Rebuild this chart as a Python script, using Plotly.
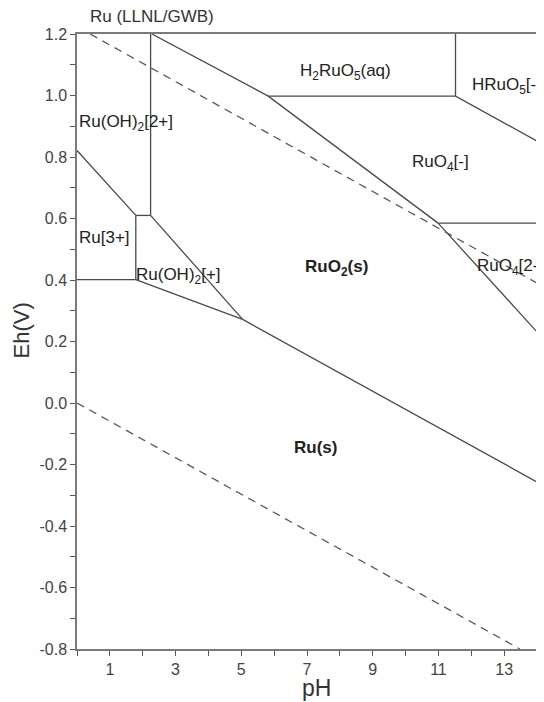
import plotly.graph_objects as go

# ---- data (pH, Eh in V) ----
# solid stability-field boundaries
b_ru3_ruoh2_ph = [0.0, 1.79]
b_ru3_ruoh2_eh = [0.821, 0.610]
b_step_ph = [1.79, 2.24]
b_step_eh = [0.610, 0.610]
b_vert_a_ph = [2.24, 2.24]
b_vert_a_eh = [0.610, 1.200]
b_vert_b_ph = [1.79, 1.79]
b_vert_b_eh = [0.610, 0.401]
b_h040_ph = [0.0, 1.79]
b_h040_eh = [0.401, 0.401]
b_ruoh2p_upper_ph = [2.24, 5.04]
b_ruoh2p_upper_eh = [0.610, 0.272]
b_ruoh2p_lower_ph = [1.79, 5.04]
b_ruoh2p_lower_eh = [0.401, 0.272]
b_ru_ruo2_ph = [5.04, 14.0]
b_ru_ruo2_eh = [0.272, -0.257]
b_ruo2_top_ph = [2.28, 5.82, 10.99]
b_ruo2_top_eh = [1.200, 0.998, 0.585]
b_h2ruo5_ph = [5.82, 11.52]
b_h2ruo5_eh = [0.998, 0.998]
b_hruo5_ph = [11.52, 11.52, 14.0]
b_hruo5_eh = [1.200, 0.998, 0.852]
b_ruo4_ph = [10.99, 14.0]
b_ruo4_eh = [0.585, 0.585]
b_ruo42_ph = [10.99, 14.0]
b_ruo42_eh = [0.585, 0.231]

solid_ph = [b_ru3_ruoh2_ph, b_step_ph, b_vert_a_ph, b_vert_b_ph, b_h040_ph,
            b_ruoh2p_upper_ph, b_ruoh2p_lower_ph, b_ru_ruo2_ph, b_ruo2_top_ph,
            b_h2ruo5_ph, b_hruo5_ph, b_ruo4_ph, b_ruo42_ph]
solid_eh = [b_ru3_ruoh2_eh, b_step_eh, b_vert_a_eh, b_vert_b_eh, b_h040_eh,
            b_ruoh2p_upper_eh, b_ruoh2p_lower_eh, b_ru_ruo2_eh, b_ruo2_top_eh,
            b_h2ruo5_eh, b_hruo5_eh, b_ruo4_eh, b_ruo42_eh]

# water stability (dashed)
water_upper_ph = [0.40, 14.0]
water_upper_eh = [1.200, 0.390]
water_lower_ph = [0.0, 13.48]
water_lower_eh = [0.0, -0.800]

# field labels
label_text = ["H<sub>2</sub>RuO<sub>5</sub>(aq)", "HRuO<sub>5</sub>[-]", "Ru(OH)<sub>2</sub>[2+]",
              "RuO<sub>4</sub>[-]", "Ru[3+]", "Ru(OH)<sub>2</sub>[+]", "<b>RuO<sub>2</sub>(s)</b>",
              "RuO<sub>4</sub>[2-]", "<b>Ru(s)</b>"]
label_ph = [8.16, 11.96, 0.0, 11.05, 0.85, 1.73, 7.91, 12.12, 7.27]
label_eh = [1.075, 1.030, 0.909, 0.779, 0.539, 0.412, 0.438, 0.441, -0.144]
label_anchor = ["center", "left", "left", "center", "center", "left", "center", "left", "center"]

x_tick_vals = [1, 3, 5, 7, 9, 11, 13]
y_tick_vals = [1.2, 1.0, 0.8, 0.6, 0.4, 0.2, 0.0, -0.2, -0.4, -0.6, -0.8]
y_tick_text = ["1.2", "1.0", "0.8", "0.6", "0.4", "0.2", "0.0", "-0.2", "-0.4", "-0.6", "-0.8"]

FONT = "Liberation Sans, Arial, sans-serif"

fig = go.Figure()
for xs, ys in zip(solid_ph, solid_eh):
    fig.add_trace(go.Scatter(x=xs, y=ys, mode="lines",
                             line=dict(color="#4a4a4a", width=1.3),
                             hoverinfo="skip", showlegend=False))
for xs, ys in [(water_upper_ph, water_upper_eh), (water_lower_ph, water_lower_eh)]:
    fig.add_trace(go.Scatter(x=xs, y=ys, mode="lines",
                             line=dict(color="#5a5a5a", width=1.3, dash="8px,6px"),
                             hoverinfo="skip", showlegend=False))

annotations = []
for t, px, ey, anc in zip(label_text, label_ph, label_eh, label_anchor):
    annotations.append(dict(x=px, y=ey, xref="x", yref="y", text=t, showarrow=False,
                            xanchor=anc, yanchor="middle",
                            font=dict(family=FONT, size=17, color="#222222")))
annotations.append(dict(x=0.024, y=1, xref="paper", yref="paper", text="Ru (LLNL/GWB)",
                        showarrow=False, xanchor="left", yanchor="middle", yshift=18,
                        font=dict(family=FONT, size=17, color="#333333")))
annotations.append(dict(x=0.5, y=0, xref="paper", yref="paper", text="pH",
                        showarrow=False, xanchor="center", yanchor="middle", yshift=-39, xshift=9,
                        font=dict(family=FONT, size=23, color="#333333")))
annotations.append(dict(x=0, y=0.5, xref="paper", yref="paper", text="Eh(V)", textangle=-90,
                        showarrow=False, xanchor="center", yanchor="middle", xshift=-56, yshift=11,
                        font=dict(family=FONT, size=22, color="#333333")))

axis_common = dict(showline=True, mirror=True, linecolor="#7a7a7a", linewidth=1.5,
                   showgrid=False, zeroline=False, ticks="outside", ticklen=5,
                   tickcolor="#555555", tickwidth=1.3, automargin=False,
                   tickfont=dict(family=FONT, size=16, color="#444444"))

# the page body adds an 8px margin, so the figure is sized to fit the 544x702 window
fig.update_layout(
    width=536, height=694, autosize=False,
    margin=dict(l=69, r=7, t=26, b=53),
    paper_bgcolor="white", plot_bgcolor="white",
    showlegend=False,
    annotations=annotations,
    xaxis=dict(range=[0, 14], tickmode="array", tickvals=x_tick_vals,
               minor=dict(ticks="outside", ticklen=5, tick0=0, dtick=1,
                          tickcolor="#555555", tickwidth=1.3),
               **axis_common),
    yaxis=dict(range=[-0.8, 1.2], tickmode="array", tickvals=y_tick_vals, ticktext=y_tick_text,
               minor=dict(ticks="outside", ticklen=5, tick0=0, dtick=0.1,
                          tickcolor="#555555", tickwidth=1.3),
               **axis_common),
)

fig.write_html("out.html")
